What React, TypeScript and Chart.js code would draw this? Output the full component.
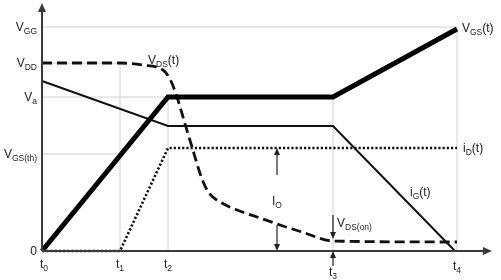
import React, { useEffect, useRef } from "react";
import { Chart, registerables } from "chart.js";

Chart.register(...registerables);

// ---- data (x: time units, y: signal level units) ----
const timeLabels = ["t{0}", "t{1}", "t{2}", "t{3}", "t{4}"];
const timeValues = [0, 78, 126, 291, 415];

const levelLabels = ["V{GG}", "V{DD}", "V{a}", "V{GS(th)}", "0"];
const levelValues = [224, 188, 154, 97, 0];

// V_GS(t)
const vgsX = [0, 126, 291, 415];
const vgsY = [0, 154, 154, 222];
// i_G(t)
const igX = [0, 126, 291, 413];
const igY = [170, 125, 125, 0];
// i_D(t)
const idX = [0, 78, 126, 415];
const idY = [0, 0, 103, 103];
// V_DS(t)
const vdsX = [0, 78, 100, 121, 128, 135, 141, 150, 160, 167, 180, 195, 218, 241, 260, 291, 415];
const vdsY = [188, 188, 186, 181, 172, 154, 134, 104, 72, 58, 48, 41, 33, 25, 19, 10, 9];

// grid segments: [timeIndex, levelIndex] -> vertical from 0 to level at time, horizontal from 0 to time at level
const vGrid: [number, number][] = [[1, 1], [2, 2], [3, 2], [4, 0]];
const hGrid: [number, number][] = [[0, 4], [1, 1], [2, 2], [3, 1]]; // [levelIndex, timeIndex]

// curve labels: text, x, y, align
const curveLabels: [string, number, number, string][] = [
  ["V{DS}(t)", 106, 191, "left"],
  ["V{GS}(t)", 420, 223, "left"],
  ["i{D}(t)", 421, 103, "left"],
  ["i{G}(t)", 368, 59, "left"],
  ["I{O}", 235, 50, "center"],
  ["V{DS(on)}", 295, 28, "left"],
];

// annotation arrows: x1,y1 -> x2,y2 (head at end)
const arrows: [number, number, number, number][] = [
  [235, 76, 235, 103],
  [235, 26, 235, 0],
  [291, 36, 291, 12],
  [291, -15, 291, 0],
];

const X_MAX = 448;
const Y_MAX = 246;

const FONT = "'Liberation Sans', Arial, sans-serif";

function pts(xs: number[], ys: number[]) {
  return xs.map((x, i) => ({ x, y: ys[i] }));
}

function drawRich(ctx: CanvasRenderingContext2D, text: string, x: number, y: number, align: string) {
  const parts: [string, boolean][] = [];
  const re = /\{([^}]*)\}/g;
  let last = 0;
  let m: RegExpExecArray | null;
  while ((m = re.exec(text))) {
    if (m.index > last) parts.push([text.slice(last, m.index), false]);
    parts.push([m[1], true]);
    last = m.index + m[0].length;
  }
  if (last < text.length) parts.push([text.slice(last), false]);
  const mainFont = `12px ${FONT}`;
  const subFont = `8.5px ${FONT}`;
  let w = 0;
  for (const [t, s] of parts) {
    ctx.font = s ? subFont : mainFont;
    w += ctx.measureText(t).width;
  }
  let cx = align === "left" ? x : align === "right" ? x - w : x - w / 2;
  const base = y + 4;
  ctx.textAlign = "left";
  ctx.textBaseline = "alphabetic";
  for (const [t, s] of parts) {
    ctx.font = s ? subFont : mainFont;
    ctx.fillText(t, cx, s ? base + 3 : base);
    cx += ctx.measureText(t).width;
  }
}

function arrow(ctx: CanvasRenderingContext2D, x1: number, y1: number, x2: number, y2: number, len: number, half: number) {
  const ang = Math.atan2(y2 - y1, x2 - x1);
  ctx.beginPath();
  ctx.moveTo(x1, y1);
  ctx.lineTo(x2 - Math.cos(ang) * len * 0.6, y2 - Math.sin(ang) * len * 0.6);
  ctx.stroke();
  ctx.beginPath();
  ctx.moveTo(x2, y2);
  ctx.lineTo(x2 - Math.cos(ang) * len + Math.sin(ang) * half, y2 - Math.sin(ang) * len - Math.cos(ang) * half);
  ctx.lineTo(x2 - Math.cos(ang) * len - Math.sin(ang) * half, y2 - Math.sin(ang) * len + Math.cos(ang) * half);
  ctx.closePath();
  ctx.fill();
}

const overlayPlugin = {
  id: "overlay",
  afterDatasetsDraw(chart: any) {
    const ctx: CanvasRenderingContext2D = chart.ctx;
    const xs = chart.scales.x;
    const ys = chart.scales.y;
    const px = (v: number) => xs.getPixelForValue(v);
    const py = (v: number) => ys.getPixelForValue(v);
    ctx.save();
    // axes
    ctx.strokeStyle = "#3a3a3a";
    ctx.fillStyle = "#3a3a3a";
    ctx.lineWidth = 2;
    arrow(ctx, px(0), py(0), px(0), py(Y_MAX) - 2, 9, 4);
    arrow(ctx, px(0), py(0), px(X_MAX) + 2, py(0), 9, 4);
    // annotation arrows
    ctx.strokeStyle = "#222";
    ctx.fillStyle = "#222";
    ctx.lineWidth = 1.2;
    for (const [x1, y1, x2, y2] of arrows) arrow(ctx, px(x1), py(y1), px(x2), py(y2), 7, 3);
    // texts
    ctx.fillStyle = "#222";
    levelLabels.forEach((l, i) => drawRich(ctx, l, px(0) - 5, py(levelValues[i]), "right"));
    timeLabels.forEach((l, i) => {
      const off = i === 3 ? 21 : i === 4 ? 15 : 13;
      drawRich(ctx, l, px(timeValues[i]) + (i === 0 ? 2 : 0), py(0) + off, "center");
    });
    for (const [t, x, y, a] of curveLabels) drawRich(ctx, t, px(x), py(y), a);
    ctx.restore();
  },
};

export default function App() {
  const ref = useRef<HTMLCanvasElement>(null);
  useEffect(() => {
    if (!ref.current) return;
    const gridColor = "#d2d2d2";
    const gridSets: any[] = [];
    for (const [ti, li] of vGrid) {
      gridSets.push({
        data: [{ x: timeValues[ti], y: 0 }, { x: timeValues[ti], y: levelValues[li] }],
        borderColor: gridColor, borderWidth: 1, order: 10,
      });
    }
    for (const [li, ti] of hGrid) {
      gridSets.push({
        data: [{ x: 0, y: levelValues[li] }, { x: timeValues[ti], y: levelValues[li] }],
        borderColor: gridColor, borderWidth: 1, order: 10,
      });
    }
    const common = { showLine: true, pointRadius: 0, pointHoverRadius: 0, clip: false, fill: false };
    const chart = new Chart(ref.current, {
      type: "scatter",
      data: {
        datasets: [
          ...gridSets.map((d) => ({ ...common, ...d })),
          { ...common, data: pts(idX, idY), borderColor: "#111", borderWidth: 2.6, borderDash: [2.2, 2], order: 3 },
          { ...common, data: pts(vdsX, vdsY), borderColor: "#111", borderWidth: 2.8, borderDash: [10, 5], cubicInterpolationMode: "monotone", order: 2 },
          { ...common, data: pts(igX, igY), borderColor: "#111", borderWidth: 2, order: 1 },
          { ...common, data: pts(vgsX, vgsY), borderColor: "#000", borderWidth: 5, borderJoinStyle: "miter", order: 0 },
        ],
      },
      options: {
        animation: false,
        responsive: false,
        events: [],
        layout: { padding: { left: 42, right: 11, top: 5, bottom: 29 } },
        plugins: { legend: { display: false }, tooltip: { enabled: false } },
        scales: {
          x: { type: "linear", min: 0, max: X_MAX, display: false },
          y: { type: "linear", min: 0, max: Y_MAX, display: false },
        },
      },
      plugins: [overlayPlugin],
    } as any);
    return () => chart.destroy();
  }, []);
  return (
    <div style={{ position: "fixed", left: 0, top: 0, width: 501, height: 280, background: "#fff" }}>
      <canvas ref={ref} width={501} height={280} style={{ display: "block", width: 501, height: 280 }} />
    </div>
  );
}
